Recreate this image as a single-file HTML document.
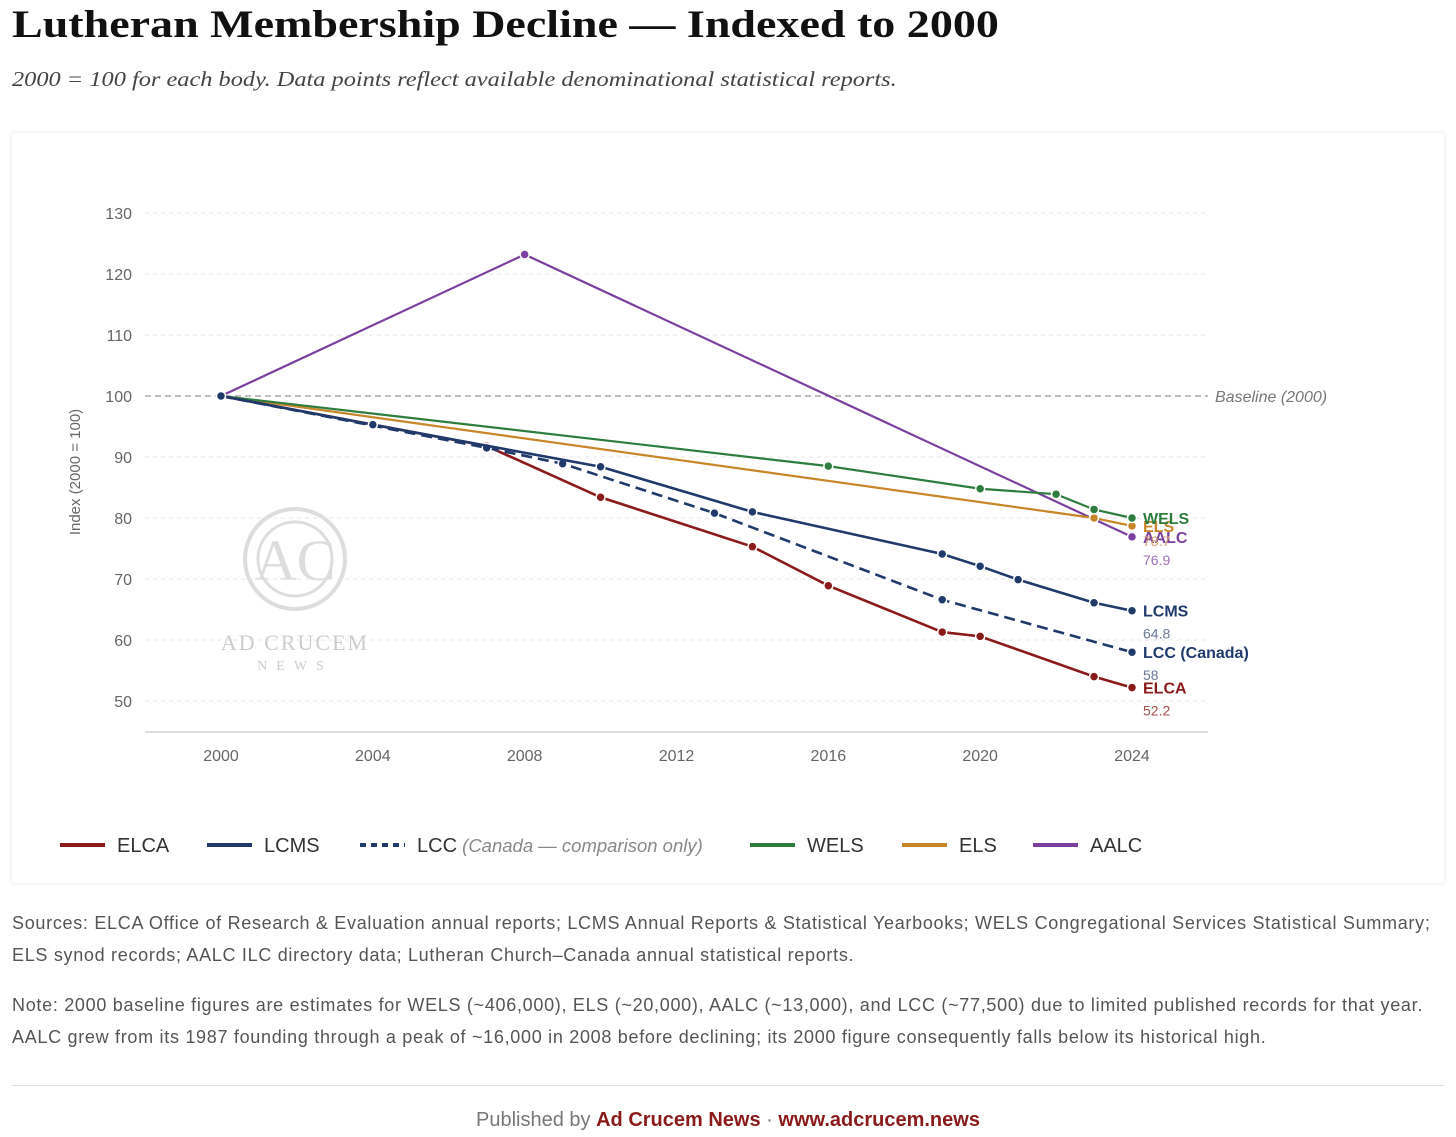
<!DOCTYPE html>
<html><head><meta charset="utf-8">
<style>
body{margin:0;width:1456px;height:1137px;background:#fff;font-family:"Liberation Sans",sans-serif;position:relative;overflow:hidden}
.t{position:absolute;white-space:nowrap}
</style></head><body>
<div class="t" style="left:12px;top:2px;font:bold 39px 'Liberation Serif',serif;color:#111;transform-origin:0 0;transform:scaleX(1.18)">Lutheran Membership Decline — Indexed to 2000</div>
<div class="t" style="left:12px;top:67px;font:italic 21px 'Liberation Serif',serif;color:#444;transform-origin:0 0;transform:scaleX(1.16)">2000 = 100 for each body. Data points reflect available denominational statistical reports.</div>
<div style="position:absolute;left:12px;top:133px;width:1432px;height:750px;background:#fff;box-shadow:0 0 4px rgba(0,0,0,0.12)"></div>
<svg id="chart" width="1456" height="1137" style="position:absolute;left:0;top:0" font-family="Liberation Sans, sans-serif"></svg>
<div class="t" style="left:12px;top:907px;font-size:18px;letter-spacing:0.7px;color:#555;line-height:32px">Sources: ELCA Office of Research &amp; Evaluation annual reports; LCMS Annual Reports &amp; Statistical Yearbooks; WELS Congregational Services Statistical Summary;<br>ELS synod records; AALC ILC directory data; Lutheran Church–Canada annual statistical reports.</div>
<div class="t" style="left:12px;top:989px;font-size:18px;letter-spacing:0.7px;color:#555;line-height:32px">Note: 2000 baseline figures are estimates for WELS (~406,000), ELS (~20,000), AALC (~13,000), and LCC (~77,500) due to limited published records for that year.<br>AALC grew from its 1987 founding through a peak of ~16,000 in 2008 before declining; its 2000 figure consequently falls below its historical high.</div>
<div style="position:absolute;left:12px;top:1085px;width:1432px;height:1px;background:#ddd"></div>
<div class="t" style="left:0;width:1456px;text-align:center;top:1109px;font-size:20px;color:#777">Published by <b style="color:#8b1a1a">Ad Crucem News</b> · <b style="color:#8b1a1a">www.adcrucem.news</b></div>
<script>
const yTicks=[50,60,70,80,90,100,110,120,130];
const xTicks=[2000,2004,2008,2012,2016,2020,2024];
const elcaYears=[2000,2007,2010,2014,2016,2019,2020,2023,2024];
const elcaVals=[100,91.8,83.4,75.3,68.9,61.3,60.6,54,52.2];
const lcmsYears=[2000,2004,2010,2014,2019,2020,2021,2023,2024];
const lcmsVals=[100,95.3,88.4,81,74.1,72.1,69.9,66.1,64.8];
const lccYears=[2000,2007,2009,2013,2019,2024];
const lccVals=[100,91.5,88.9,80.8,66.6,58];
const welsYears=[2000,2016,2020,2022,2023,2024];
const welsVals=[100,88.5,84.8,83.9,81.4,80];
const elsYears=[2000,2023,2024];
const elsVals=[100,80,78.7];
const aalcYears=[2000,2008,2024];
const aalcVals=[100,123.2,76.9];
const X=y=>221+(y-2000)*(1132-221)/24;
const Y=v=>396-(v-100)*6.1;
const svg=document.getElementById('chart');
const NS='http://www.w3.org/2000/svg';
function mk(t,a,txt){const e=document.createElementNS(NS,t);for(const k in a)e.setAttribute(k,a[k]);if(txt!==undefined)e.textContent=txt;svg.appendChild(e);return e;}
mk('circle',{cx:295,cy:559,r:50,fill:'none',stroke:'#ddd','stroke-width':4});
mk('circle',{cx:295,cy:559,r:37,fill:'none',stroke:'#ddd','stroke-width':3});
let wm=mk('text',{x:295,y:580,'text-anchor':'middle','font-size':58,'font-family':'Liberation Serif, serif',fill:'#ddd'},'AC');

mk('text',{x:295,y:650,'text-anchor':'middle','font-size':22,'font-family':'Liberation Serif, serif',fill:'#ccc','letter-spacing':2},'AD CRUCEM');
mk('text',{x:295,y:670,'text-anchor':'middle','font-size':14,'font-family':'Liberation Serif, serif',fill:'#ccc','letter-spacing':9},'NEWS');
for(const v of yTicks){
  const l=mk('line',{x1:145,x2:1208,y1:Y(v),y2:Y(v),stroke:v===100?'#aaa':'#e6e6e6','stroke-width':v===100?1.5:1,'stroke-dasharray':v===100?'6,4':'4,4'});
  
  const t=mk('text',{x:132,y:Y(v)+6,'text-anchor':'end','font-size':16,fill:'#666'},v);
  
}
const bl=mk('text',{x:1215,y:Y(100)+6,'font-size':16,'font-style':'italic',fill:'#777'},'Baseline (2000)');

mk('line',{x1:145,x2:1208,y1:732,y2:732,stroke:'#bbb'});
for(const y of xTicks){
  const t=mk('text',{x:X(y),y:761,'text-anchor':'middle','font-size':16,fill:'#666'},y);
  
}
const yt=mk('text',{x:80,y:472,'text-anchor':'middle','font-size':15,fill:'#666',transform:'rotate(-90 80 472)'},'Index (2000 = 100)');

function series(name,ys,vs,col,dash,lbl,lblDy,valDy,valCol){
  const p=mk('polyline',{points:ys.map((y,i)=>X(y)+','+Y(vs[i])).join(' '),fill:'none',stroke:col,'stroke-width':name==='wels'||name==='els'||name==='aalc'?2.2:2.6,'stroke-dasharray':dash||'none'});
  
  ys.forEach((y,i)=>{const c=mk('circle',{cx:X(y),cy:Y(vs[i]),r:4.5,fill:col,stroke:'#fff','stroke-width':1.5});
    });
  const last=ys.length-1;const lx=X(ys[last])+11,ly=Y(vs[last]);
  const t=mk('text',{x:lx,y:ly+lblDy,'font-size':16,'font-weight':'bold',fill:col},lbl);
  
  const v=mk('text',{x:lx,y:ly+valDy,'font-size':14,fill:valCol},vs[last]);
  
}
series('aalc',aalcYears,aalcVals,'#7b3fa0',null,'AALC',6,28,'#9a70b8');
series('els',elsYears,elsVals,'#c8862a',null,'ELS',6,20,'#d2a070');
series('wels',welsYears,welsVals,'#2e7d3e',null,'WELS',6,99,'#fff');
series('elca',elcaYears,elcaVals,'#8b1a1a',null,'ELCA',6,28,'#a0504c');
series('lcc',lccYears,lccVals,'#1f3a6b','11,6','LCC (Canada)',6,28,'#6a7a99');
series('lcms',lcmsYears,lcmsVals,'#1f3a6b',null,'LCMS',6,28,'#6a7a99');
const legend=[['ELCA','#8b1a1a',null,60],['LCMS','#1f3a6b',null,207],['LCC','#1f3a6b','6,5',360],['WELS','#2e7d3e',null,750],['ELS','#c8862a',null,902],['AALC','#7b3fa0',null,1033]];
for(const [n,c,d,x] of legend){
  const l=mk('line',{x1:x,x2:x+45,y1:845,y2:845,stroke:c,'stroke-width':4,'stroke-dasharray':d||'none'});
  
  const t=mk('text',{x:x+57,y:852,'font-size':20,fill:'#333'},n);
  
  if(n==='LCC'){const s=mk('tspan',{'font-style':'italic',fill:'#888','font-size':18.5},' (Canada — comparison only)');t.appendChild(s);}
}
</script>
</body></html>
